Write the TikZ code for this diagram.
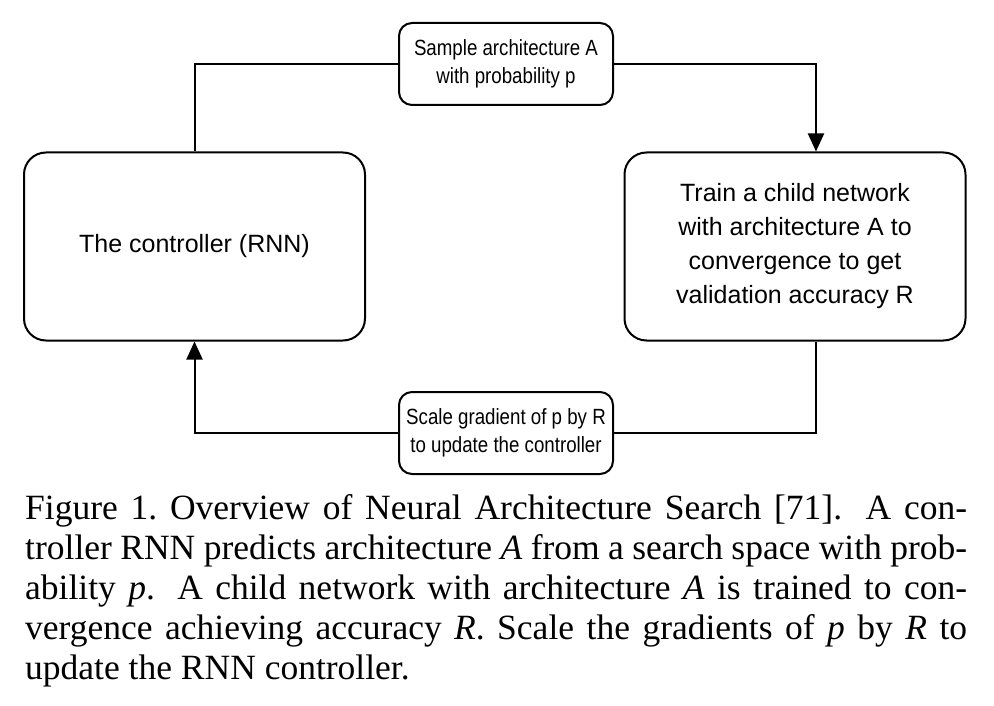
\documentclass[tikz,border=0pt]{standalone}
\usepackage{fontspec}
\setmainfont{Liberation Serif}
\newfontfamily\arialfont{Liberation Sans}
\newfontfamily\arialnarrow[FakeStretch=0.85]{Liberation Sans}
\usetikzlibrary{arrows.meta,positioning}
\begin{document}
\begin{tikzpicture}[x=1pt,y=-1pt,
  bigbox/.style={draw,line width=2pt,rounded corners=22pt,minimum width=341pt,minimum height=188pt,
    align=center,font=\arialfont\fontsize{25}{34}\selectfont,inner sep=0pt},
  labelbox/.style={draw,line width=2pt,fill=white,rounded corners=13pt,minimum width=214pt,minimum height=82pt,
    align=center,font=\arialnarrow\fontsize{22}{28}\selectfont,inner sep=0pt},
  conn/.style={line width=2pt},
  arr/.style={conn,-{Triangle[length=18pt,width=16pt]}}]
\useasboundingbox (0,0) rectangle (994,706);
\node[bigbox] (ctrl) at (194.5,246.5) {The controller (RNN)};
\node[bigbox] (train) at (795,246.5) {Train a child network\\with architecture A to\\convergence to get\\validation accuracy R};
\node[labelbox] (sample) at (506,64) {Sample architecture A\\with probability p};
\node[labelbox] (scale) at (506,433) {Scale gradient of p by R\\to update the controller};
\coordinate (tin) at ([xshift=21pt]train.north);
\coordinate (tout) at ([xshift=21pt]train.south);
\draw[conn] (ctrl.north) |- (sample.west);
\draw[arr] (sample.east) -| (tin);
\draw[conn] (tout) |- (scale.east);
\draw[arr] (scale.west) -| (ctrl.south);
\node[anchor=north west,inner sep=0pt,text width=942pt,align=justify,
  font=\fontsize{35.5}{40.2}\selectfont] (cap) at (25,494)
  {Figure 1.\ Overview of Neural Architecture Search [71].  A con-\linebreak troller RNN predicts architecture \textit{A} from a search space with prob-\linebreak ability \textit{p}.  A child network with architecture \textit{A} is trained to con-\linebreak vergence achieving accuracy \textit{R}. Scale the gradients of \textit{p} by \textit{R} to\linebreak update the RNN controller.};
\end{tikzpicture}
\end{document}
